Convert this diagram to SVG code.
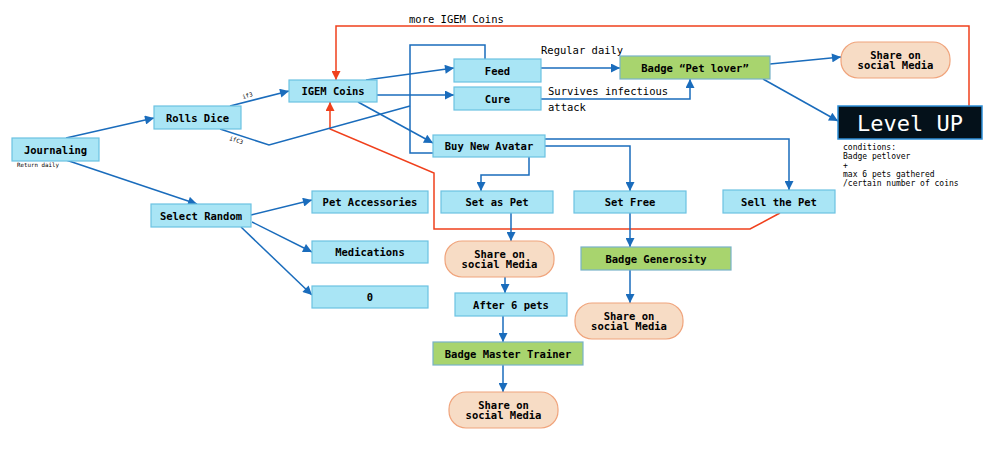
<svg xmlns="http://www.w3.org/2000/svg" width="1000" height="474" viewBox="0 0 1000 474">
<defs>
<style>
text{font-family:"DejaVu Sans Mono","Liberation Mono",monospace;fill:#000}
.t{font-size:10.5px;font-weight:bold;text-anchor:middle;dominant-baseline:central}
.lbl{font-size:10.5px}
.blue{fill:#a9e5f5;stroke:#6cc2e2;stroke-width:1.2}
.green{fill:#a8d46e;stroke:#78b2c8;stroke-width:1.2}
.share{fill:#f7dcc5;stroke:#f0a47c;stroke-width:1.2}
.c{fill:none;stroke:#1a6cbc;stroke-width:1.5}
.r{fill:none;stroke:#f0401c;stroke-width:1.5}
.small{font-size:8px}
.tiny{font-size:5.8px}
</style>
<marker id="ab" viewBox="0 0 10 10" refX="10" refY="5" markerWidth="11" markerHeight="9" markerUnits="userSpaceOnUse" orient="auto"><path d="M0,0 L10,5 L0,10 z" fill="#1a6cbc"/></marker>
<marker id="ar" viewBox="0 0 10 10" refX="10" refY="5" markerWidth="11" markerHeight="9" markerUnits="userSpaceOnUse" orient="auto"><path d="M0,0 L10,5 L0,10 z" fill="#f0401c"/></marker>
</defs>
<rect width="1000" height="474" fill="#fff"/>

<g id="connectors">
<path class="r" d="M969,106 V26 H336 V80" marker-end="url(#ar)"/>
<path class="r" d="M780,213 L750,229 H434 V173 L330,129 V102" marker-end="url(#ar)"/>
<path class="c" d="M66,138 L154,118" marker-end="url(#ab)"/>
<path class="c" d="M66,160 L197,204" marker-end="url(#ab)"/>
<path class="c" d="M230,106 L289,91" marker-end="url(#ab)"/>
<path class="c" d="M220,129 L269,145 L410,106"/>
<path class="c" d="M485,59 V45 H410 V153 H433"/>
<path class="c" d="M366,80 L454,68" marker-end="url(#ab)"/>
<path class="c" d="M377,95 H454" marker-end="url(#ab)"/>
<path class="c" d="M358,102 L433,143" marker-end="url(#ab)"/>
<path class="c" d="M541,68 H620" marker-end="url(#ab)"/>
<path class="c" d="M541,99 H690 V79" marker-end="url(#ab)"/>
<path class="c" d="M770,64 L841,57" marker-end="url(#ab)"/>
<path class="c" d="M763,79 L838,121" marker-end="url(#ab)"/>
<path class="c" d="M545,139 H789 V190" marker-end="url(#ab)"/>
<path class="c" d="M545,146 H630 V191" marker-end="url(#ab)"/>
<path class="c" d="M529,157 V175 H481 V191" marker-end="url(#ab)"/>
<path class="c" d="M511,213 V241" marker-end="url(#ab)"/>
<path class="c" d="M505,277 V293" marker-end="url(#ab)"/>
<path class="c" d="M503,316 V342" marker-end="url(#ab)"/>
<path class="c" d="M503,365 V392" marker-end="url(#ab)"/>
<path class="c" d="M630,213 V247" marker-end="url(#ab)"/>
<path class="c" d="M630,270 V303" marker-end="url(#ab)"/>
<path class="c" d="M251,215 L312,200" marker-end="url(#ab)"/>
<path class="c" d="M252,222 L312,252" marker-end="url(#ab)"/>
<path class="c" d="M241,227 L312,295" marker-end="url(#ab)"/>
<text class="lbl" x="409" y="23">more IGEM Coins</text>
<text class="lbl" x="541" y="54">Regular daily</text>
<text class="lbl" x="548" y="95">Survives infectious</text>
<text class="lbl" x="548" y="111">attack</text>
<text class="tiny" x="0" y="0" transform="translate(243,99) rotate(-16)">if3</text>
<text class="tiny" x="0" y="0" transform="translate(229,140) rotate(18)">ifC3</text>
</g>

<g id="journaling"><rect class="blue" x="12" y="138" width="87" height="23"/><text class="t" x="55.5" y="149.5">Journaling</text><text class="tiny" x="17" y="167">Return daily</text></g>
<g id="rolls-dice"><rect class="blue" x="154" y="106" width="87" height="23"/><text class="t" x="197.5" y="117.5">Rolls Dice</text></g>
<g id="igem-coins"><rect class="blue" x="289" y="80" width="88" height="22"/><text class="t" x="333" y="91">IGEM Coins</text></g>
<g id="feed"><rect class="blue" x="454" y="59" width="87" height="23"/><text class="t" x="497.5" y="70.5">Feed</text></g>
<g id="cure"><rect class="blue" x="454" y="87" width="87" height="23"/><text class="t" x="497.5" y="98.5">Cure</text></g>
<g id="buy-new-avatar"><rect class="blue" x="433" y="135" width="112" height="22"/><text class="t" x="489" y="146">Buy New Avatar</text></g>
<g id="badge-pet-lover"><rect class="green" x="620" y="56" width="150" height="23"/><text class="t" x="695" y="67.5">Badge “Pet lover”</text></g>
<g id="share-1"><rect class="share" x="841" y="42" width="109" height="36" rx="17"/><text class="t" x="895.5" y="55">Share on</text><text class="t" x="895.5" y="65">social Media</text></g>
<g id="level-up"><rect x="838" y="106" width="144" height="33" fill="#04111a" stroke="#2d8ed8" stroke-width="1.5"/><text x="910" y="123" font-size="22" fill="#fff" style="fill:#fff;text-anchor:middle;dominant-baseline:central">Level UP</text>
<text class="small" x="843" y="150">conditions:</text><text class="small" x="843" y="159">Badge petlover</text><text class="small" x="843" y="168">+</text><text class="small" x="843" y="177">max 6 pets gathered</text><text class="small" x="843" y="186">/certain number of coins</text></g>
<g id="select-random"><rect class="blue" x="151" y="204" width="100" height="23"/><text class="t" x="201" y="215.5">Select Random</text></g>
<g id="pet-accessories"><rect class="blue" x="312" y="191" width="116" height="22"/><text class="t" x="370" y="202">Pet Accessories</text></g>
<g id="medications"><rect class="blue" x="312" y="241" width="116" height="22"/><text class="t" x="370" y="252">Medications</text></g>
<g id="zero"><rect class="blue" x="312" y="286" width="116" height="22"/><text class="t" x="370" y="297">0</text></g>
<g id="set-as-pet"><rect class="blue" x="441" y="191" width="112" height="22"/><text class="t" x="497" y="202">Set as Pet</text></g>
<g id="set-free"><rect class="blue" x="574" y="191" width="112" height="22"/><text class="t" x="630" y="202">Set Free</text></g>
<g id="sell-the-pet"><rect class="blue" x="723" y="190" width="112" height="23"/><text class="t" x="779" y="201.5">Sell the Pet</text></g>
<g id="share-2"><rect class="share" x="445" y="241" width="109" height="36" rx="17"/><text class="t" x="499.5" y="254">Share on</text><text class="t" x="499.5" y="264">social Media</text></g>
<g id="badge-generosity"><rect class="green" x="581" y="247" width="150" height="23"/><text class="t" x="656" y="258.5">Badge Generosity</text></g>
<g id="after-6-pets"><rect class="blue" x="455" y="293" width="112" height="23"/><text class="t" x="511" y="304.5">After 6 pets</text></g>
<g id="share-3"><rect class="share" x="575" y="303" width="108" height="36" rx="17"/><text class="t" x="629" y="316">Share on</text><text class="t" x="629" y="326">social Media</text></g>
<g id="badge-master-trainer"><rect class="green" x="433" y="342" width="150" height="23"/><text class="t" x="508" y="353.5">Badge Master Trainer</text></g>
<g id="share-4"><rect class="share" x="449" y="392" width="109" height="36" rx="17"/><text class="t" x="503.5" y="405">Share on</text><text class="t" x="503.5" y="415">social Media</text></g>
</svg>
